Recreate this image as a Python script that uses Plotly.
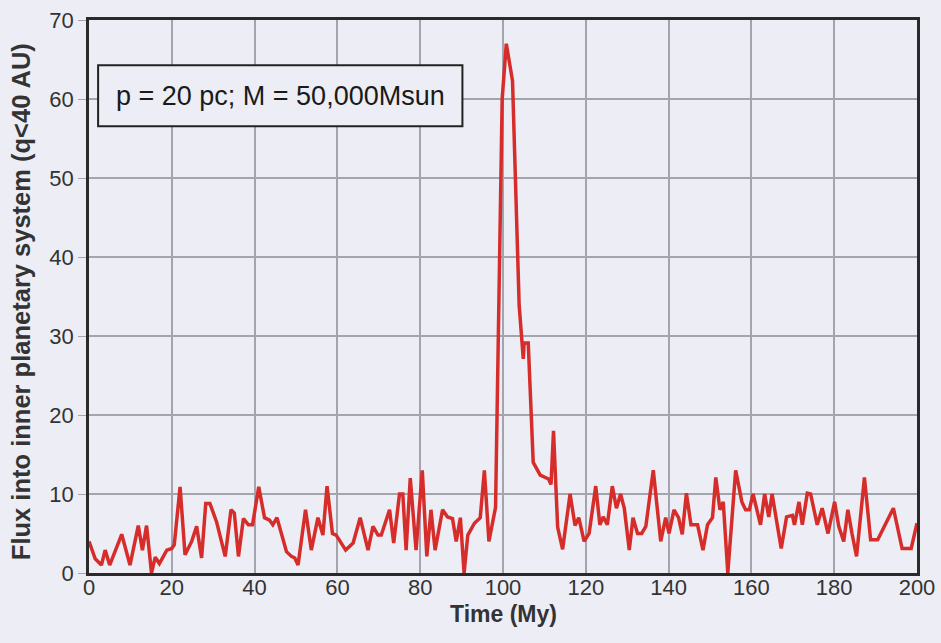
import plotly.graph_objects as go

time_my = [0, 1.5, 3, 3.9, 5, 7.9, 9.9, 11.9, 12.9, 13.9, 15.1, 16, 17, 18.8, 20, 20.6, 22, 23.2, 24.8, 26,
           27.2, 28.2, 29.2, 30.8, 32.9, 34.3, 35.1, 36.1, 37.3, 38.5, 39.5, 41, 42.4, 43.6, 44.4, 45.4, 47.7,
           48.9, 49.7, 50.5, 52.3, 53.7, 55.3, 56.5, 57.5, 58.8, 59.7, 62, 63.8, 65.5, 67.4, 68.6, 69.8, 70.6,
           72.6, 73.6, 75, 75.8, 76.6, 77.6, 79, 80.5, 81.6, 82.6, 83.6, 85.4, 86.6, 87.8, 88.7, 89.7, 90.6,
           91.5, 93.1, 94.5, 95.5, 96.6, 98.2, 99.8, 100.8, 102.3, 103.9, 104.9, 105.1, 106.1, 107.3, 109,
           111, 111.6, 112.2, 113.2, 114.4, 116.2, 117.4, 118.3, 119.6, 120.8, 122.4, 123.4, 124.2, 125.2,
           126.4, 127.4, 128.4, 129.3, 130.5, 131.4, 132.5, 133.5, 134.5, 136.3, 138.1, 139.3, 140.1, 141.3,
           142.4, 143.3, 144.3, 145.4, 147, 148.3, 149.4, 150.6, 151.4, 152.4, 153.2, 154.3, 156.2, 157.7,
           158.6, 159.5, 160.4, 161.4, 162.2, 163.2, 164.2, 165, 167.2, 168.5, 169.9, 170.4, 171.5, 172.3,
           173.5, 174.3, 175.9, 177.1, 178.5, 180.1, 181.1, 182.3, 183.3, 184.3, 185.4, 187.3, 188.8, 190.5,
           194.3, 196.4, 198.6, 200]
flux = [4, 1.8, 1, 2.9, 1, 4.9, 1, 6, 2.9, 6, 0, 2, 1.2, 2.9, 3.1, 3.6, 10.9, 2.3, 4, 5.9,
        1.9, 8.8, 8.8, 6.5, 2.1, 8, 7.6, 2.1, 6.9, 6.1, 6.1, 10.9, 7, 6.7, 6.1, 7, 2.7,
        2.1, 1.9, 1, 8, 2.9, 7, 4.8, 11, 5, 4.8, 2.9, 3.8, 7, 2.9, 5.9, 4.8, 4.8,
        8, 3.8, 10, 10, 2.9, 12, 2.9, 13, 2.1, 8, 2.9, 8, 7.1, 6.9, 4, 7, 0,
        4.8, 6.3, 7, 13, 4, 8.3, 60, 67, 62.3, 33.9, 27.1, 29.1, 29.1, 14, 12.4,
        11.9, 11.2, 18, 5.8, 3, 10, 6, 7, 4, 5, 11, 6.1, 7.1, 6.1,
        11, 8.2, 10, 8.2, 2.9, 7, 5, 5, 5.9, 13, 4, 7, 5, 8,
        7, 4.9, 10.1, 6.1, 6.1, 2.9, 6.1, 7, 12.1, 8, 9, 0, 13, 9,
        8, 8, 10, 8, 6.1, 10, 7.1, 10, 3.1, 7.1, 7.3, 6.1, 9, 6.1,
        10.1, 10, 6.1, 8.2, 5, 9, 5.9, 4, 8, 5, 2.1, 12.1, 4.2, 4.2,
        8.2, 3.1, 3.1, 6.3]

x_ticks = [0, 20, 40, 60, 80, 100, 120, 140, 160, 180, 200]
y_ticks = [0, 10, 20, 30, 40, 50, 60, 70]
label_text = "p = 20 pc; M = 50,000Msun"
x_title = "Time (My)"
y_title = "Flux into inner planetary system (q&lt;40 AU)"

bg = "#ecedf5"
grid = "#a3a4ad"
txt = "#333333"
font_fam = "Liberation Sans, Arial, sans-serif"

fig = go.Figure()
fig.add_trace(go.Scatter(x=time_my, y=flux, mode="lines",
                         line=dict(color="#d62d2b", width=3.5), hoverinfo="skip",
                         showlegend=False))

fig.add_shape(type="rect", xref="paper", yref="paper",
              x0=0.011, x1=0.451, y0=0.808, y1=0.918,
              line=dict(color="#222222", width=2), fillcolor=bg, layer="above")
fig.add_annotation(xref="paper", yref="paper", x=0.231, y=0.863,
                   xanchor="center", yanchor="middle",
                   text=label_text, showarrow=False,
                   font=dict(family=font_fam, size=27, color="#1a1a1a"))
fig.add_annotation(xref="paper", yref="paper", x=0.5, y=-0.074,
                   xanchor="center", yanchor="middle", text="<b>" + x_title + "</b>",
                   showarrow=False, font=dict(family=font_fam, size=23, color=txt))
fig.add_annotation(xref="paper", yref="paper", x=-0.082, y=0.49,
                   xanchor="center", yanchor="middle", textangle=-90,
                   text="<b>" + y_title + "</b>",
                   showarrow=False, font=dict(family=font_fam, size=25.5, color=txt))

fig.update_layout(
    width=941, height=643,
    margin=dict(l=89, r=24, t=20, b=70),
    paper_bgcolor=bg, plot_bgcolor=bg,
    font=dict(family=font_fam, size=18, color=txt),
    xaxis=dict(range=[0, 200], tickvals=x_ticks, showgrid=True, gridcolor=grid, gridwidth=1.5,
               showline=True, linecolor="#2a2a2a", linewidth=2.5, mirror=True, automargin=False,
               zeroline=False, ticks="", ticklabelstandoff=-7,
               tickfont=dict(size=22, color=txt)),
    yaxis=dict(range=[0, 70], tickvals=y_ticks, showgrid=True, gridcolor=grid, gridwidth=1.5,
               showline=True, linecolor="#2a2a2a", linewidth=2.5, mirror=True, automargin=False,
               zeroline=False, ticks="outside", ticklen=8, tickcolor=grid,
               tickfont=dict(size=22, color=txt)),
)

fig.write_html("out.html", config={"displayModeBar": False},
               post_script="document.body.style.margin='0';"
                           "document.body.style.background='#ecedf5';"
                           "document.body.style.overflow='hidden';")
